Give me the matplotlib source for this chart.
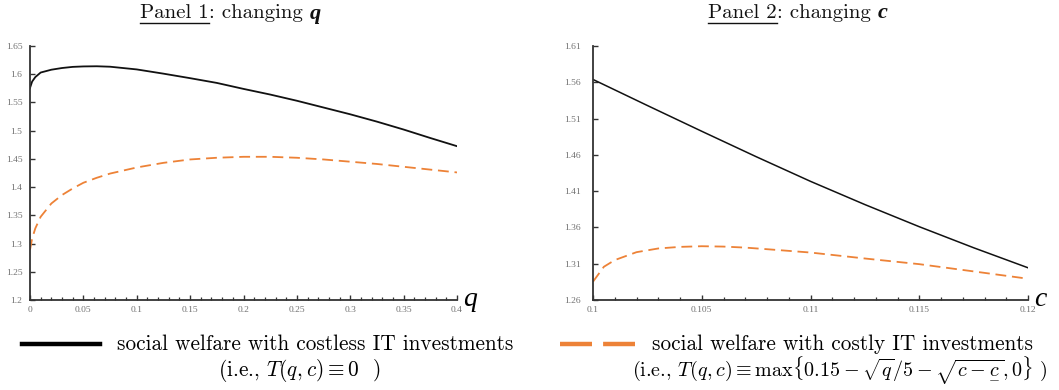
import numpy as np
import matplotlib
matplotlib.use('Agg')
from matplotlib import pyplot as plt
from matplotlib.lines import Line2D
from matplotlib.ticker import MultipleLocator

plt.rcParams['mathtext.fontset'] = 'cm'

# panel 1: changing q
q_vals = [0, 0.002, 0.005, 0.01, 0.02, 0.03, 0.04, 0.05, 0.0625, 0.075, 0.1, 0.125, 0.15,
          0.175, 0.2, 0.225, 0.25, 0.275, 0.3, 0.325, 0.35, 0.375, 0.4]
q_costless = [1.5757, 1.587, 1.595, 1.603, 1.608, 1.611, 1.613, 1.6138, 1.6141, 1.6133, 1.6085,
              1.601, 1.593, 1.5846, 1.574, 1.564, 1.553, 1.541, 1.529, 1.516, 1.502,
              1.487, 1.4725]
q_costly = [1.2886, 1.309, 1.327, 1.3475, 1.371, 1.386, 1.3976, 1.4077, 1.4165, 1.424, 1.4348,
            1.443, 1.449, 1.452, 1.4537, 1.4537, 1.452, 1.449, 1.445, 1.441, 1.436,
            1.431, 1.426]

# panel 2: changing c
c_black = [0.1, 0.1025, 0.105, 0.1075, 0.11, 0.1125, 0.115, 0.1175, 0.12]
c_costless = [1.5639, 1.528, 1.4925, 1.4575, 1.4235, 1.3915, 1.3610, 1.332, 1.3044]
c_orange = [0.1, 0.1005, 0.101, 0.102, 0.103, 0.104, 0.105, 0.106, 0.107, 0.108,
            0.11, 0.1125, 0.115, 0.1175, 0.12]
c_costly = [1.2852, 1.3058, 1.315, 1.3259, 1.331, 1.3332, 1.3341, 1.3336, 1.3322, 1.33,
            1.3254, 1.3172, 1.3094, 1.2994, 1.2893]

q_yticks = [1.2, 1.25, 1.3, 1.35, 1.4, 1.45, 1.5, 1.55, 1.6, 1.65]
q_xticks = [0, 0.05, 0.1, 0.15, 0.2, 0.25, 0.3, 0.35, 0.4]
c_yticks = [1.26, 1.31, 1.36, 1.41, 1.46, 1.51, 1.56, 1.61]
c_xticks = [0.1, 0.105, 0.11, 0.115, 0.12]

BLACK = '#111111'
ORANGE = '#ED8237'
GRAY = '#707070'
W, H = 1059, 390

fig = plt.figure(figsize=(W / 100, H / 100), dpi=100)
ax1 = fig.add_axes([30 / W, 90 / H, 427 / W, 254 / H])
ax2 = fig.add_axes([593 / W, 90 / H, 435 / W, 254 / H])


def style_axis(ax, xticks, yticks, xminor, ypad):
    for s in ['top', 'right']:
        ax.spines[s].set_visible(False)
    for s in ['left', 'bottom']:
        ax.spines[s].set_linewidth(1.3)
        ax.spines[s].set_color('#333333')
    ax.set_xlim(xticks[0], xticks[-1])
    ax.set_ylim(yticks[0], yticks[-1])
    ax.set_xticks(xticks)
    ax.set_yticks(yticks)
    ax.set_xticklabels([('%g' % t) for t in xticks])
    ax.set_yticklabels([('%g' % t) for t in yticks])
    ax.xaxis.set_minor_locator(MultipleLocator(xminor))
    ax.tick_params(axis='both', which='major', direction='in', length=3.5, width=1.0,
                   color='#333333', labelsize=6.8, labelcolor=GRAY)
    ax.tick_params(axis='x', which='minor', direction='in', length=2.5, width=0.9,
                   color='#333333')
    ax.tick_params(axis='x', which='major', pad=4.0)
    ax.tick_params(axis='y', which='major', pad=ypad)
    for lab in ax.get_xticklabels() + ax.get_yticklabels():
        lab.set_fontfamily('Liberation Serif')


ax1.plot(q_vals, q_costless, color=BLACK, lw=1.3)
ax1.plot(q_vals, q_costly, color=ORANGE, lw=1.3, dashes=(6, 3.2))
style_axis(ax1, q_xticks, q_yticks, 0.01, 5.5)

ax2.plot(c_black, c_costless, color=BLACK, lw=1.1)
ax2.plot(c_orange, c_costly, color=ORANGE, lw=1.3, dashes=(6, 3.2))
style_axis(ax2, c_xticks, c_yticks, 0.001, 9.0)

# axis letters at the right end
ax1.text(1.015, 0.0, 'q', transform=ax1.transAxes, family='Liberation Serif',
         style='italic', fontsize=20, ha='left', va='center')
ax2.text(1.015, 0.0, 'c', transform=ax2.transAxes, family='Liberation Serif',
         style='italic', fontsize=20, ha='left', va='center')

# titles with underlined "Panel n"
fig.canvas.draw()
renderer = fig.canvas.get_renderer()
for x0, num, letter in [(140, '1', 'q'), (708, '2', 'c')]:
    t = fig.text(x0 / W, 1 - 18.5 / H, 'Panel ' + num, family='cmr10', fontsize=15,
                 ha='left', va='baseline', color='#111111')
    bb = t.get_window_extent(renderer)
    fig.add_artist(Line2D([bb.x0 / W, bb.x1 / W], [1 - 22.5 / H, 1 - 22.5 / H],
                          color='#111111', lw=1.0))
    t2 = fig.text(bb.x1 / W, 1 - 18.5 / H, ': changing ', family='cmr10', fontsize=15,
                  ha='left', va='baseline', color='#111111')
    bb2 = t2.get_window_extent(renderer)
    fig.text(bb2.x1 / W, 1 - 18.5 / H, letter, family='Liberation Serif',
             style='italic', weight='bold', fontsize=16, ha='left', va='baseline',
             color='#111111')

# legend
fig.add_artist(Line2D([22 / W, 100 / W], [1 - 344 / H, 1 - 344 / H], color='black', lw=3.2))
fig.text(315 / W, 1 - 344 / H, 'social welfare with costless IT investments',
         family='cmr10', fontsize=15.3, ha='center', va='center')
fig.text(299 / W, 1 - 371 / H, r'(i.e., $T(q,c) \equiv 0$  )',
         family='cmr10', fontsize=15.3, ha='center', va='center')

fig.add_artist(Line2D([560 / W, 635 / W], [1 - 344 / H, 1 - 344 / H], color=ORANGE,
                      lw=3.2, dashes=(7.2, 2.5)))
fig.text(842 / W, 1 - 344 / H, 'social welfare with costly IT investments',
         family='cmr10', fontsize=15.3, ha='center', va='center')
fig.text(840 / W, 1 - 371 / H,
         r'(i.e., $T(q,c) \equiv \max\{0.15-\sqrt{q}/5-\sqrt{c-\underset{-}{c}},0\}$ )',
         family='cmr10', fontsize=14.5, ha='center', va='center')

fig.savefig('out.png', dpi=100)
